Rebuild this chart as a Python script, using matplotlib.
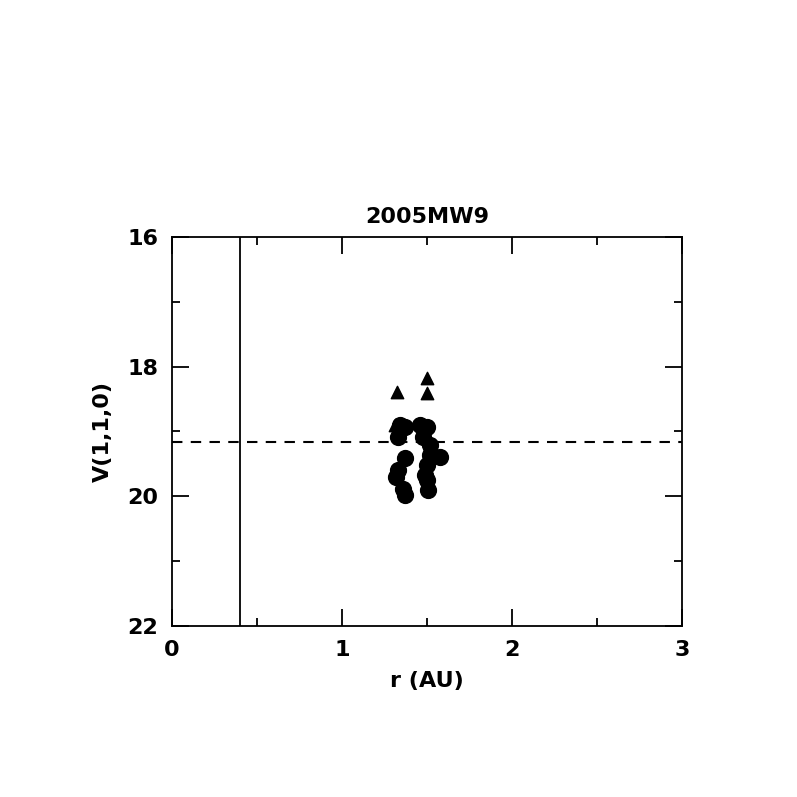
import matplotlib
matplotlib.use("Agg")
import matplotlib.pyplot as plt
from matplotlib.ticker import MultipleLocator

title = "2005MW9"
tri_r = [1.322, 1.498, 1.498, 1.31, 1.478]
tri_v = [18.39, 18.18, 18.40, 18.90, 18.90]
circ_r = [1.341, 1.37, 1.33, 1.37, 1.33, 1.32, 1.36, 1.37,
          1.459, 1.498, 1.478, 1.518, 1.518, 1.576, 1.498, 1.488, 1.498, 1.508]
circ_v = [18.90, 18.93, 19.08, 19.41, 19.59, 19.70, 19.88, 19.98,
          18.90, 18.93, 19.08, 19.21, 19.36, 19.39, 19.52, 19.67, 19.75, 19.90]
vline_r = 0.40
hline_v = 19.16

plt.rcParams['font.family'] = ['DejaVu Sans']
plt.rcParams['font.weight'] = 'bold'
fig = plt.figure(figsize=(7.97, 7.97), dpi=100)
ax = fig.add_axes([0.2158, 0.2146, 0.6399, 0.488])
ax.scatter(tri_r, tri_v, marker='^', s=80, color='black', zorder=3)
ax.scatter(circ_r, circ_v, marker='o', s=130, color='black', zorder=3)
ax.axvline(vline_r, color='black', lw=1.3)
ax.axhline(hline_v, color='black', lw=1.5, ls=(0, (5, 4)))
ax.set_xlim(0, 3)
ax.set_ylim(22, 16)
ax.xaxis.set_major_locator(MultipleLocator(1))
ax.xaxis.set_minor_locator(MultipleLocator(0.5))
ax.yaxis.set_major_locator(MultipleLocator(2))
ax.yaxis.set_minor_locator(MultipleLocator(1))
ax.tick_params(which='both', direction='in', top=True, right=True, width=1.3, labelsize=16)
ax.tick_params(which='major', length=12, pad=10)
ax.tick_params(which='minor', length=6)
for s in ax.spines.values():
    s.set_linewidth(1.3)
ax.set_xlabel("r (AU)", fontsize=16, fontweight='bold', labelpad=8)
ax.set_ylabel("V(1,1,0)", fontsize=16, fontweight='bold', labelpad=10)
ax.set_title(title, fontsize=16, fontweight='bold', pad=10)
fig.savefig("out.png", dpi=100)
